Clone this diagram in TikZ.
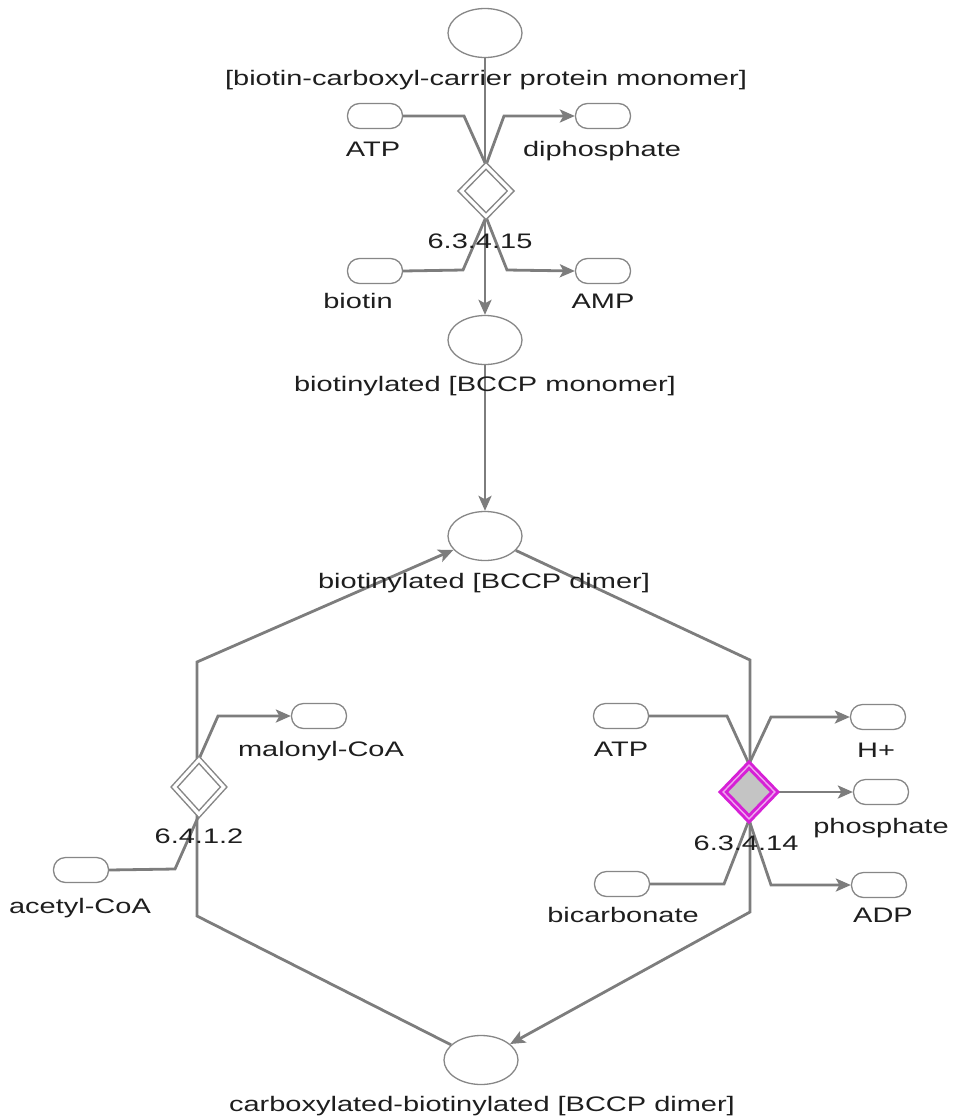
\documentclass[tikz,border=0pt]{standalone}
\usepackage{fontspec}
\setmainfont[FakeStretch=1.38]{Liberation Sans}
\usetikzlibrary{shapes.geometric,arrows.meta,calc}
\definecolor{edgegray}{RGB}{125,125,125}
\definecolor{rimgray}{RGB}{135,135,135}
\definecolor{txt}{RGB}{30,30,30}
\definecolor{enzmag}{RGB}{214,32,214}
\definecolor{enzfill}{RGB}{196,196,196}
\begin{document}
\begin{tikzpicture}[x=1pt,y=-1pt,
  met/.style={ellipse,draw=rimgray,line width=1.3pt,fill=white,inner sep=0pt,
    minimum width=74pt,minimum height=49pt},
  cpd/.style={rectangle,rounded corners=12pt,draw=rimgray,line width=1.3pt,fill=white,inner sep=0pt,
    minimum width=55pt,minimum height=25pt},
  rxn/.style={diamond,draw=rimgray,line width=1.5pt,double=white,double distance=3.2pt,
    fill=white,inner sep=0pt,minimum width=50pt,minimum height=51pt},
  hotrxn/.style={diamond,draw=enzmag,line width=3pt,double=enzmag!40,double distance=1.4pt,
    fill=enzfill,inner sep=0pt,minimum width=53pt,minimum height=55pt},
  lbl/.style={anchor=base,text=txt,inner sep=0pt,font=\fontsize{21pt}{24pt}\selectfont},
  conn/.style={draw=edgegray,line width=2.8pt,line join=miter},
  tip/.style={conn,-{Stealth[length=15pt,width=13pt,inset=3.5pt]}}]
\useasboundingbox (0,0) rectangle (955,1119);

% metabolite nodes
\node[met] (bccp) at (485,33) {};
\node[met] (bbm) at (485,340) {};
\node[met] (bbd) at (485,536) {};
\node[met] (cbd) at (481,1060) {};

\node[cpd] (atpa) at (375,116) {};
\node[cpd] (dip) at (603,116) {};
\node[cpd] (bio) at (375,271) {};
\node[cpd] (amp) at (603,271) {};

\node[cpd] (mcoa) at (319,716) {};
\node[cpd] (acoa) at (81,870) {};

\node[cpd] (atpb) at (621,716) {};
\node[cpd] (bicarb) at (622,884) {};
\node[cpd] (hplus) at (878,717) {};
\node[cpd] (phos) at (881,792) {};
\node[cpd] (adp) at (879,885) {};

% reaction positions
\coordinate (r1c) at (486,191);
\coordinate (r2c) at (199,787);
\coordinate (r3c) at (749,792);

% bend points of the side connectors
\coordinate (k1) at (464,116);
\coordinate (k2) at (504,116);
\coordinate (k3) at (463,270);
\coordinate (k4) at (507,270);
\coordinate (k5) at (175,869);
\coordinate (k6) at (218,716);
\coordinate (k7) at (727,716);
\coordinate (k8) at (724,884);
\coordinate (k9) at (771,717);
\coordinate (k10) at (771,885);
\coordinate (l1) at (197,916);
\coordinate (l2) at (197,662);
\coordinate (q1) at (750,660);
\coordinate (q2) at (750,912);

% main chain
\draw[tip] (bccp) -- (bbm);
\draw[tip] (bbm) -- (bbd);
\draw[tip] (cbd) -- (l1) -- (l2) -- (bbd);
\draw[tip] (bbd) -- (q1) -- (q2) -- (cbd);

% side metabolites of 6.3.4.15
\draw[conn] (atpa.east) -- (k1) -- ($(k1)!1.25!(486,165)$);
\draw[conn] (bio.east) -- (k3) -- ($(k3)!1.25!(486,217)$);
\draw[tip] ($(k2)!1.25!(486,165)$) -- (k2) -- (dip.west);
\draw[tip] ($(k4)!1.25!(486,217)$) -- (k4) -- (amp.west);

% side metabolites of 6.4.1.2
\draw[conn] (acoa.east) -- (k5) -- ($(k5)!1.25!(199,815)$);
\draw[tip] ($(k6)!1.25!(199,759)$) -- (k6) -- (mcoa.west);

% side metabolites of 6.3.4.14
\draw[conn] (atpb.east) -- (k7) -- ($(k7)!1.25!(749,764)$);
\draw[conn] (bicarb.east) -- (k8) -- ($(k8)!1.25!(749,820)$);
\draw[tip] ($(k9)!1.25!(749,764)$) -- (k9) -- (hplus.west);
\draw[tip] ($(k10)!1.25!(749,820)$) -- (k10) -- (adp.west);
\draw[tip] (r3c) -- (phos.west);

% reaction diamonds
\node[rxn] (r1) at (r1c) {};
\node[rxn,minimum height=55pt] (r2) at (r2c) {};
\node[hotrxn] (r3) at (r3c) {};

% labels
\node[lbl] (t-bccp) at (486,85) {[biotin-carboxyl-carrier protein monomer]};
\node[lbl] (t-atpa) at (373,156) {ATP};
\node[lbl] (t-dip) at (602,156) {diphosphate};
\node[lbl] (t-r1) at (480,248) {6.3.4.15};
\node[lbl] (t-bio) at (358,308) {biotin};
\node[lbl] (t-amp) at (603,308) {AMP};
\node[lbl] (t-bbm) at (485,391) {biotinylated [BCCP monomer]};
\node[lbl] (t-bbd) at (484,588) {biotinylated [BCCP dimer]};
\node[lbl] (t-mcoa) at (321,756) {malonyl-CoA};
\node[lbl] (t-r2) at (199,843) {6.4.1.2};
\node[lbl] (t-acoa) at (80,913) {acetyl-CoA};
\node[lbl] (t-atpb) at (621,756) {ATP};
\node[lbl] (t-hplus) at (876,757) {H+};
\node[lbl] (t-phos) at (881,833) {phosphate};
\node[lbl] (t-r3) at (746,850) {6.3.4.14};
\node[lbl] (t-bicarb) at (623,922) {bicarbonate};
\node[lbl] (t-adp) at (883,922) {ADP};
\node[lbl] (t-cbd) at (482,1111) {carboxylated-biotinylated [BCCP dimer]};
\end{tikzpicture}
\end{document}
